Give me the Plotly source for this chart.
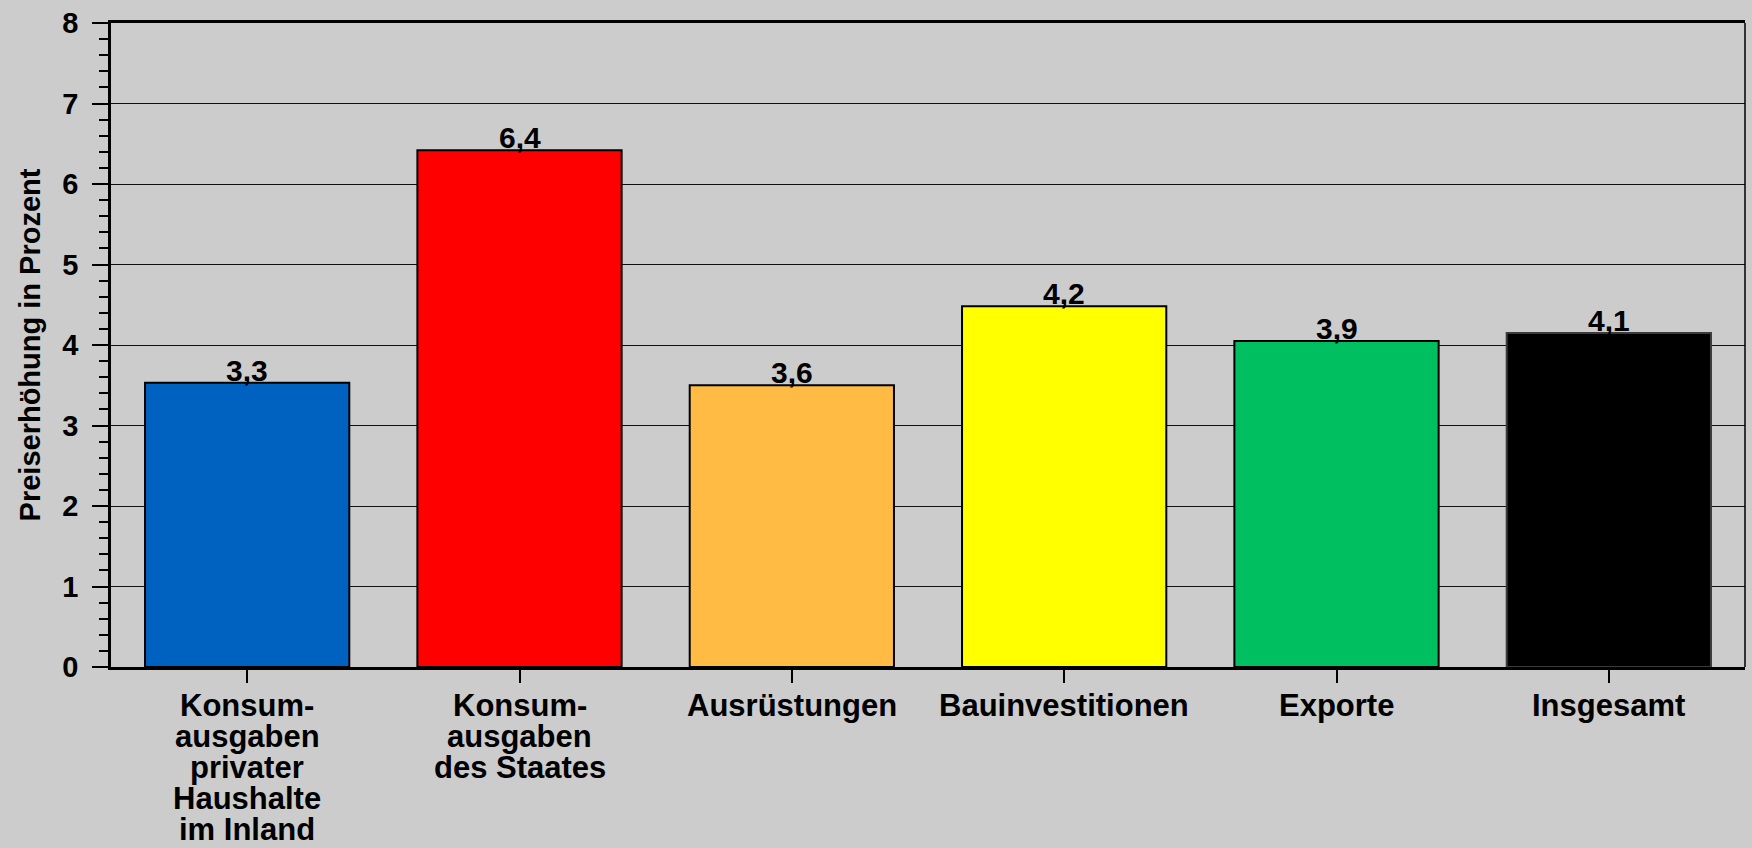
import plotly.graph_objects as go

categories = ["Konsum-<br>ausgaben<br>privater<br>Haushalte<br>im Inland",
              "Konsum-<br>ausgaben<br>des Staates",
              "Ausrüstungen",
              "Bauinvestitionen",
              "Exporte",
              "Insgesamt"]
bar_values = [3.53, 6.42, 3.50, 4.48, 4.05, 4.15]
value_labels = ["3,3", "6,4", "3,6", "4,2", "3,9", "4,1"]
bar_colors = ["#0062C0", "#FF0000", "#FFBB44", "#FFFF00", "#00BF60", "#000000"]
outline_colors = ["#000000", "#000000", "#000000", "#000000", "#000000", "#3a3a3a"]
y_title = "Preiserhöhung in Prozent"

FONT = "Liberation Sans, Arial, sans-serif"
BG = "#CCCCCC"

x_idx = list(range(len(categories)))

fig = go.Figure()
fig.add_trace(go.Bar(
    x=x_idx, y=bar_values, width=0.75,
    marker=dict(color=bar_colors, line=dict(color=outline_colors, width=2)),
    showlegend=False, hoverinfo="skip",
))

annotations = []
# value labels, baseline sitting on the bar top
for i, (v, lab) in enumerate(zip(bar_values, value_labels)):
    annotations.append(dict(
        x=i, y=v, xref="x", yref="y", text=lab, showarrow=False,
        yanchor="bottom", xanchor="center", yshift=-6,
        font=dict(family=FONT, size=30, color="#000000", weight="bold"),
    ))
# category labels, one annotation per line for tight line spacing
for i, lab in enumerate(categories):
    for j, line in enumerate(lab.split("<br>")):
        annotations.append(dict(
            x=i, y=0, xref="x", yref="y", text=line, showarrow=False,
            yanchor="top", xanchor="center", yshift=-19 - 31 * j,
            font=dict(family=FONT, size=31, color="#000000", weight="bold"),
        ))

fig.update_layout(
    width=1752, height=848,
    paper_bgcolor=BG, plot_bgcolor=BG,
    margin=dict(l=111, r=7, t=18, b=181),
    annotations=annotations,
    xaxis=dict(
        range=[-0.5, 5.5], tickvals=x_idx, showticklabels=False,
        tickson="boundaries", ticks="outside", ticklen=13, tickwidth=1.5,
        tickcolor="#000000", showline=True, linecolor="#000000", linewidth=2.5,
        mirror=True, showgrid=False, zeroline=False,
    ),
    yaxis=dict(
        range=[0, 8], dtick=1, tick0=0, ticks="outside", ticklen=16, tickwidth=2,
        tickcolor="#000000", showline=True, linecolor="#000000", linewidth=2.5,
        showgrid=True, gridcolor="#111111", gridwidth=1, zeroline=False,
        tickfont=dict(family=FONT, size=29, color="#000000", weight="bold"),
        ticklabelstandoff=8,
        minor=dict(dtick=0.2, tick0=0, ticks="outside", ticklen=9, tickwidth=2,
                   tickcolor="#000000", showgrid=False),
        title=dict(text=y_title, standoff=14,
                   font=dict(family=FONT, size=29, color="#000000", weight="bold")),
    ),
    shapes=[dict(type="line", xref="paper", yref="paper", x0=1, x1=1, y0=0, y1=1,
                 line=dict(color="#000000", width=1.5))],
)

fig.write_html("out.html", config={"displayModeBar": False},
               post_script="document.body.style.margin='0';document.body.style.overflow='hidden';")
